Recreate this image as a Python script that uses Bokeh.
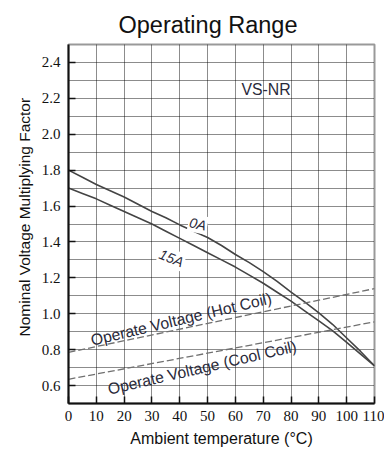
import math
from bokeh.plotting import figure
from bokeh.models import ColumnDataSource, FixedTicker, Range1d, PrintfTickFormatter, Title
from bokeh.core.properties import value
from bokeh.embed import file_html
from bokeh.resources import INLINE

temps = [0, 5, 10, 15, 20, 25, 30, 35, 40, 45, 50, 55,
         60, 65, 70, 75, 80, 85, 90, 95, 100, 105, 110]
factor_0a = [1.80, 1.76, 1.72, 1.685, 1.65, 1.61, 1.57, 1.535, 1.495, 1.46, 1.425, 1.38,
             1.33, 1.285, 1.235, 1.18, 1.12, 1.065, 1.005, 0.94, 0.865, 0.79, 0.71]
factor_15a = [1.70, 1.67, 1.64, 1.605, 1.57, 1.535, 1.50, 1.46, 1.42, 1.38, 1.34, 1.30,
              1.26, 1.215, 1.17, 1.12, 1.07, 1.015, 0.96, 0.905, 0.84, 0.775, 0.71]
hot_x = [0, 110]
hot_y = [0.785, 1.14]
cool_x = [0, 110]
cool_y = [0.635, 0.955]
x_ticks = [0, 10, 20, 30, 40, 50, 60, 70, 80, 90, 100, 110]
y_ticks = [0.6, 0.8, 1.0, 1.2, 1.4, 1.6, 1.8, 2.0, 2.2, 2.4]
y_minor = [0.5, 0.7, 0.9, 1.1, 1.3, 1.5, 1.7, 1.9, 2.1, 2.3, 2.5]

label_text = ["VS-NR", "Operate Voltage (Hot Coil)", "Operate Voltage (Cool Coil)"]
label_x = [71, 40.5, 48]
label_y = [2.25, 0.97, 0.70]
label_angle_deg = [0, 13.3, 13.0]

curve_text = ["0A", "15A"]
curve_x = [46.5, 37]
curve_y = [1.50, 1.31]
curve_angle_deg = [-12, -22]

FONT = "Liberation Sans"
TICK_FONT = "Liberation Sans Narrow"

p = figure(width=384, height=452, output_backend="svg", toolbar_location=None,
           x_range=Range1d(0, 110), y_range=Range1d(0.5, 2.5),
           min_border_left=68, min_border_right=10, min_border_top=44, min_border_bottom=49)

p.add_layout(Title(text="Operating Range", align="left", offset=50, standoff=14,
                   text_font=FONT, text_font_size="23.5px", text_font_style="normal",
                   text_color="#111111"), "above")
p.add_layout(Title(text="Nominal Voltage Multiplying Factor", align="left", offset=67,
                   standoff=12, text_font=FONT, text_font_size="15.5px",
                   text_font_style="normal", text_color="#111111"), "left")

p.background_fill_color = "white"
p.border_fill_color = "white"
p.outline_line_color = "#999999"
p.outline_line_width = 2

# grids
p.xgrid.ticker = FixedTicker(ticks=x_ticks)
p.ygrid.ticker = FixedTicker(ticks=y_ticks + y_minor)
for g in (p.xgrid, p.ygrid):
    g.grid_line_color = "#000000"
    g.grid_line_dash = "1 1"
    g.grid_line_width = 1
    g.grid_line_alpha = 0.9

p.xaxis.ticker = FixedTicker(ticks=x_ticks)
p.yaxis.ticker = FixedTicker(ticks=y_ticks, minor_ticks=y_minor)
p.yaxis.formatter = PrintfTickFormatter(format="%.1f")
for ax in (p.xaxis, p.yaxis):
    ax.axis_line_color = "#111111"
    ax.axis_line_width = 2
    ax.major_tick_out = 0
    ax.major_tick_in = 7
    ax.major_tick_line_width = 1.5
    ax.minor_tick_out = 0
    ax.minor_tick_in = 0
    ax.major_tick_line_color = "#111111"
    ax.major_label_text_font = TICK_FONT
    ax.major_label_text_font_size = "15px"
    ax.major_label_text_color = "#111111"
    ax.axis_label_text_font = FONT
    ax.axis_label_text_font_style = "normal"
    ax.axis_label_text_color = "#111111"
p.xaxis.axis_label_text_font_size = "16px"
p.xaxis.major_label_standoff = 7
p.yaxis.major_label_standoff = 8
p.xaxis.axis_label = "Ambient temperature (°C)"
p.xaxis.axis_label_standoff = 6

p.line(temps, factor_0a, line_color="#444444", line_width=1.6)
p.line(temps, factor_15a, line_color="#444444", line_width=1.6)
p.line(hot_x, hot_y, line_color="#707070", line_width=1.3, line_dash="7 3")
p.line(cool_x, cool_y, line_color="#707070", line_width=1.3, line_dash="7 3")

src = ColumnDataSource(dict(x=label_x, y=label_y, t=label_text,
                            a=[math.radians(d) for d in label_angle_deg]))
p.text(x="x", y="y", text="t", angle="a", source=src, text_font=value(FONT),
       text_font_size="15.8px", text_color="#2a2a3a",
       text_align="center", text_baseline="middle")

csrc = ColumnDataSource(dict(x=curve_x, y=curve_y, t=curve_text,
                             a=[math.radians(d) for d in curve_angle_deg]))
p.text(x="x", y="y", text="t", angle="a", source=csrc, text_font=value(FONT),
       text_font_size="14px", text_font_style="italic", text_color="#2a2a3a",
       text_align="center", text_baseline="middle",
       background_fill_color="white", padding=1)

open("out.html", "w").write(file_html(p, INLINE))
